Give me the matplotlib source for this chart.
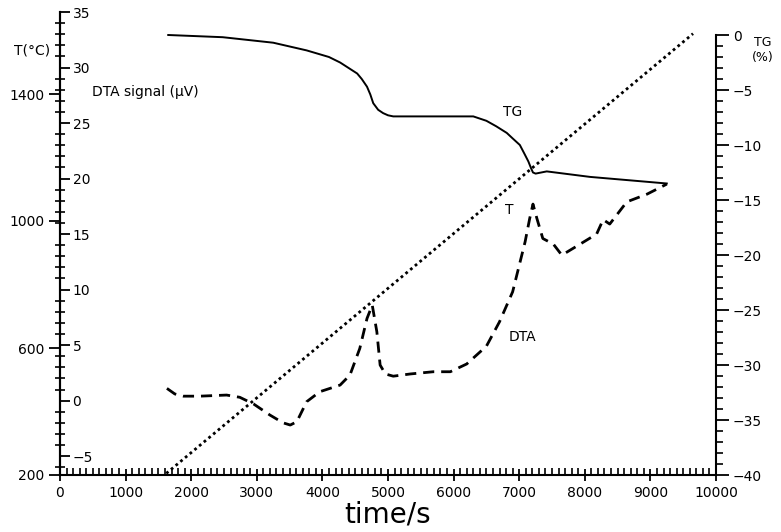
import numpy as np
import matplotlib.pyplot as plt
from matplotlib.ticker import MultipleLocator, FixedLocator

# temperature programme (dotted line), left axis
t_temp = [1620, 9650]
temp = [205, 1590]

# thermogravimetry (solid), right axis, %
t_tg = [1650, 2480, 3250, 3760, 4100, 4270, 4400, 4530, 4600, 4680, 4730,
        4775, 4850, 4925, 5000, 5080, 5500, 6300, 6500, 6650, 6810, 6900,
        7010, 7080, 7140, 7180, 7210, 7250, 7420, 8080, 9250]
tg = [0.0, -0.2, -0.7, -1.4, -2.0, -2.5, -3.0, -3.5, -4.0, -4.7, -5.4,
      -6.2, -6.8, -7.1, -7.3, -7.4, -7.4, -7.4, -7.8, -8.3, -8.9, -9.4,
      -10.0, -10.8, -11.5, -12.1, -12.5, -12.6, -12.4, -12.9, -13.5]

# DTA signal (dashed), inner left axis, microvolt
t_dta = [1630, 1750, 1880, 2130, 2540, 2740, 2950, 3200, 3400, 3510, 3610,
         3760, 3960, 4270, 4420, 4570, 4680, 4760, 4830, 4880, 4960, 5080,
         5340, 5690, 5950, 6200, 6500, 6700, 6900, 7090, 7160, 7210, 7270,
         7360, 7520, 7650, 7930, 8180, 8280, 8380, 8640, 8950, 9250]
dta = [1.1, 0.6, 0.4, 0.4, 0.5, 0.3, -0.3, -1.3, -2.0, -2.2, -1.9,
       -0.1, 0.8, 1.4, 2.3, 4.7, 7.4, 8.6, 6.2, 3.2, 2.4, 2.2,
       2.4, 2.6, 2.6, 3.3, 4.9, 7.1, 9.8, 14.3, 16.4, 17.7, 16.4,
       14.6, 14.1, 13.1, 14.1, 15.0, 16.3, 15.9, 17.9, 18.6, 19.5]

W, H = 781, 532
fig = plt.figure(figsize=(W / 100, H / 100), dpi=100)
ax = fig.add_axes([60 / W, 1 - 475 / H, 656 / W, 463 / H])

# --- main axes: time and temperature
ax.set_xlim(0, 10000)
ax.set_ylim(200, 200 + 463 / 0.3175)
ax.plot(t_temp, temp, color='black', lw=2.0, linestyle=(0, (1, 1.2)))
ax.set_xticks(np.arange(0, 10001, 1000))
ax.xaxis.set_minor_locator(MultipleLocator(100))
ax.set_yticks([200, 600, 1000, 1400])
ax.tick_params(axis='x', which='major', direction='inout', length=8, width=1.3,
               labelsize=10, pad=4)
ax.tick_params(axis='x', which='minor', direction='in', length=5, width=1.2)
ax.tick_params(axis='y', which='major', direction='out', length=8, width=1.3,
               labelsize=10, pad=3)
for s in ['top', 'right']:
    ax.spines[s].set_visible(False)
for s in ['left', 'bottom']:
    ax.spines[s].set_linewidth(1.5)
ax.set_xlabel('time/s', fontsize=20, labelpad=0)

# --- DTA axis on the same left spine, labels inside
ax_d = ax.twinx()
ax_d.set_ylim(-6.7, 35)
ax_d.plot(t_dta, dta, color='black', lw=2.0, linestyle=(0, (4, 2.5)))
ax_d.spines['right'].set_position(('axes', 0))
for s in ['top', 'left', 'bottom']:
    ax_d.spines[s].set_visible(False)
ax_d.spines['right'].set_linewidth(1.5)
ax_d.set_yticks(np.arange(-5, 36, 5))
ax_d.yaxis.set_minor_locator(MultipleLocator(1))
ax_d.tick_params(axis='y', which='major', direction='out', length=7, width=1.3,
                 labelsize=10, pad=2)
ax_d.tick_params(axis='y', which='minor', direction='inout', length=7, width=1.2)

# --- TG axis, right
ax_t = ax.twinx()
ax_t.set_ylim(-40, -40 + 463 / 11.0)
ax_t.plot(t_tg, tg, color='black', lw=1.4)
for s in ['top', 'left', 'bottom']:
    ax_t.spines[s].set_visible(False)
ax_t.spines['right'].set_bounds(-40, 0)
ax_t.spines['right'].set_linewidth(1.5)
ax_t.set_yticks(np.arange(-40, 1, 5))
ax_t.yaxis.set_minor_locator(FixedLocator(np.arange(-40, 1, 1)))
ax_t.tick_params(axis='y', which='major', direction='out', length=9, width=1.3,
                 labelsize=10, pad=3)
ax_t.tick_params(axis='y', which='minor', direction='out', length=5, width=1.2)

# --- texts
fig.text(32 / W, 1 - 50 / H, 'T(°C)', fontsize=10, ha='center', va='center')
fig.text(92 / W, 1 - 92 / H, 'DTA signal (μV)', fontsize=10, ha='left', va='center')
fig.text(763 / W, 1 - 42 / H, 'TG', fontsize=9, ha='center', va='center')
fig.text(763 / W, 1 - 58 / H, '(%)', fontsize=9, ha='center', va='center')
ax_t.text(6900, -40 + (475 - 112) / 11.0, 'TG', fontsize=10, ha='center', va='center')
ax_t.text(6850, -40 + (475 - 210) / 11.0, 'T', fontsize=10, ha='center', va='center')
ax_t.text(7050, -40 + (475 - 337) / 11.0, 'DTA', fontsize=10, ha='center', va='center')

fig.savefig('out.png', dpi=100)
